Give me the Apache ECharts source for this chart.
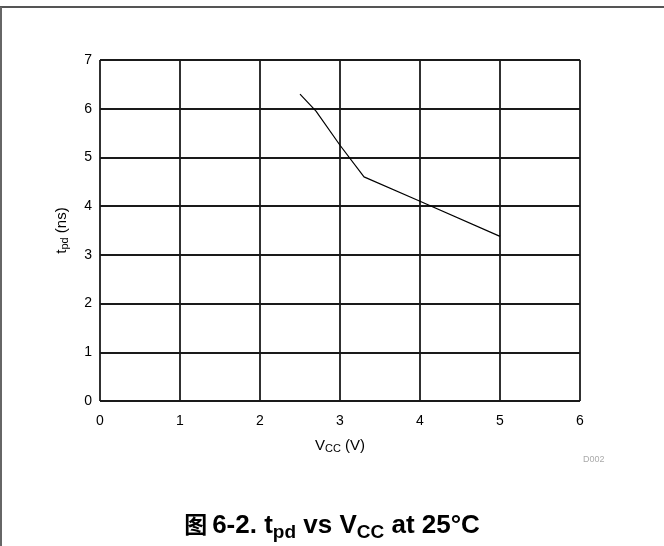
<!DOCTYPE html>
<html>
<head>
<meta charset="utf-8">
<script src="https://cdn.jsdelivr.net/npm/echarts@6/dist/echarts.min.js"></script>
<style>
  html, body { margin: 0; padding: 0; background: #fff; }
  #chart { width: 664px; height: 546px; }
</style>
</head>
<body>
<div id="chart"></div>
<script>
// t_pd vs Vcc
const vcc = [2.5, 2.7, 3.0, 3.3, 4.0, 5.0];
const tpd = [6.3, 5.95, 5.25, 4.6, 4.1, 3.38];
const xTicks = [0, 1, 2, 3, 4, 5, 6];
const yTicks = [0, 1, 2, 3, 4, 5, 6, 7];

const font = 'Liberation Sans, Arial, sans-serif';
const chart = echarts.init(document.getElementById('chart'));

chart.setOption({
  backgroundColor: '#fff',
  animation: false,
  grid: { left: 100, top: 60, width: 480, height: 341 },
  title: {
    text: '{c|图} {n|6-2. t}{s|pd}{n| vs V}{s|CC}{n| at 25°C}',
    left: 'center',
    top: 504,
    textStyle: {
      rich: {
        c: { fontFamily: 'Noto Sans CJK SC', fontSize: 23, color: '#000', padding: [0, 0, 2, 0] },
        n: { fontFamily: font, fontWeight: 'bold', fontSize: 26, color: '#000' },
        s: { fontFamily: font, fontWeight: 'bold', fontSize: 19, color: '#000', padding: [14, 0, 0, 0] }
      }
    }
  },
  xAxis: {
    type: 'value',
    min: 0, max: 6, interval: 1,
    name: '{n|V}{s|CC}{n| (V)}',
    nameLocation: 'middle',
    nameGap: 36,
    nameTextStyle: {
      rich: {
        n: { fontFamily: font, fontSize: 15, color: '#000' },
        s: { fontFamily: font, fontSize: 11, color: '#000', padding: [6, 0, 0, 0] }
      }
    },
    axisLine: { show: false },
    axisTick: { show: false },
    axisLabel: {
      margin: 13, fontFamily: font, fontSize: 14, color: '#000',
      formatter: v => xTicks.includes(v) ? String(v) : ''
    },
    splitLine: { show: true, lineStyle: { color: '#1a1a1a', width: 1.8 } }
  },
  yAxis: {
    type: 'value',
    min: 0, max: 7, interval: 1,
    name: '{n|t}{s|pd}{n| (ns)}',
    nameLocation: 'middle',
    nameGap: 30,
    nameRotate: 90,
    nameTextStyle: {
      rich: {
        n: { fontFamily: font, fontSize: 15, color: '#000' },
        s: { fontFamily: font, fontSize: 11, color: '#000', padding: [6, 0, 0, 0] }
      }
    },
    axisLine: { show: false },
    axisTick: { show: false },
    axisLabel: {
      margin: 8, fontFamily: font, fontSize: 14, color: '#000',
      formatter: v => yTicks.includes(v) ? String(v) : ''
    },
    splitLine: { show: true, lineStyle: { color: '#1a1a1a', width: 1.8 } }
  },
  graphic: [
    { type: 'line', shape: { x1: 0, y1: 7, x2: 664, y2: 7 }, style: { stroke: '#555', lineWidth: 2 } },
    { type: 'line', shape: { x1: 1, y1: 7, x2: 1, y2: 546 }, style: { stroke: '#666', lineWidth: 2 } },
    { type: 'text', left: 583, top: 455, style: { text: 'D002', fontFamily: font, fontSize: 9, fill: '#aaa' } }
  ],
  series: [{
    type: 'line',
    data: vcc.map((v, i) => [v, tpd[i]]),
    showSymbol: false,
    lineStyle: { color: '#000', width: 1.2 }
  }]
});
</script>
</body>
</html>
